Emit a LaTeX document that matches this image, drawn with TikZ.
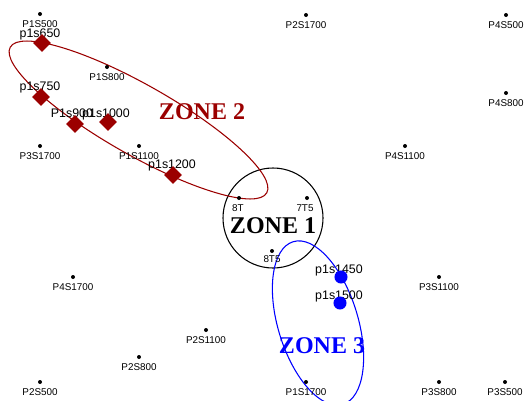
\documentclass[tikz,border=0pt]{standalone}
\usepackage{fontspec}
\setmainfont{Liberation Serif}
\newfontfamily\lblfont{Liberation Sans}
\usetikzlibrary{shapes.geometric}
\definecolor{zred}{RGB}{155,0,0}
\definecolor{zblue}{RGB}{0,0,255}
\tikzset{
  ptdot/.style={circle, fill=black, inner sep=0pt, minimum size=3pt},
  plabel/.style={anchor=base, inner sep=0pt, font=\lblfont\fontsize{7.4}{8}\selectfont},
  mlabel/.style={anchor=base, inner sep=0pt, font=\lblfont\fontsize{9.3}{10}\selectfont},
  rmark/.style={diamond, fill=zred, inner sep=0pt, minimum size=13.5pt},
  bmark/.style={circle, fill=zblue, inner sep=0pt, minimum size=9.8pt},
  zonelabel/.style={anchor=base, inner sep=0pt, font=\bfseries\fontsize{18}{20}\selectfont},
}
\begin{document}
\begin{tikzpicture}[x=0.75pt,y=-0.75pt]
\useasboundingbox (0,0) rectangle (524,400);

% zone outlines
\node[circle, draw=black, line width=0.8pt, minimum size=75pt, inner sep=0pt] (zone1) at (273,218) {};
\draw[zred, line width=0.8pt, shift={(138.5,120)}, rotate=-29.6] (0,0) ellipse [x radius=147.5, y radius=35];
\begin{scope}
\clip (0,0) rectangle (524,400);
\draw[zblue, line width=0.8pt, shift={(318,323)}, rotate=-73] (0,0) ellipse [x radius=85, y radius=40];
\end{scope}

% zone labels
\node[zonelabel] (z1) at (273,233) {ZONE 1};
\node[zonelabel, text=zred] (z2) at (202,119) {ZONE 2};
\node[zonelabel, text=zblue] (z3) at (322,353) {ZONE 3};

% station points
\foreach \n/\x/\y in {P1S500/40/14, P2S1700/306/15, P4S500/506/15, P1S800/107/67,
  P4S800/506/93, P3S1700/40/146, P1S1100/139/146, P4S1100/405/146,
  P4S1700/73/277, P3S1100/439/277, P2S1100/206/330, P2S800/139/357,
  P2S500/40/382, P1S1700/306/382, P3S800/439/382, P3S500/505/382}{
  \node[ptdot] (d\n) at (\x,\y) {};
  \node[plabel] (l\n) at (\x,\y+13) {\n};
}
\node[ptdot] (d8T) at (239,198) {};
\node[plabel] (l8T) at (238,211) {8T};
\node[ptdot] (d7T5) at (307,198) {};
\node[plabel] (l7T5) at (305,211) {7T5};
\node[ptdot] (d8T5) at (272,251) {};
\node[plabel] (l8T5) at (272,262) {8T5};

% marker labels
\node[mlabel] (lp650) at (40,37) {p1s650};
\node[mlabel] (lp750) at (40,90) {p1s750};
\node[mlabel] (lp900) at (72,117) {P1s900};
\node[mlabel] (lp1000) at (106,117) {p1s1000};
\node[mlabel] (lp1200) at (172,168) {p1s1200};
\node[mlabel] (lp1450) at (339,273) {p1s1450};
\node[mlabel] (lp1500) at (339,299) {p1s1500};

% markers
\node[rmark] (p650) at (42,43) {};
\node[rmark] (p750) at (41,97) {};
\node[rmark] (p900) at (75,124) {};
\node[rmark] (p1000) at (108,122) {};
\node[rmark] (p1200) at (173,175) {};
\node[bmark] (p1450) at (341,277) {};
\node[bmark] (p1500) at (340,303) {};
\end{tikzpicture}
\end{document}
